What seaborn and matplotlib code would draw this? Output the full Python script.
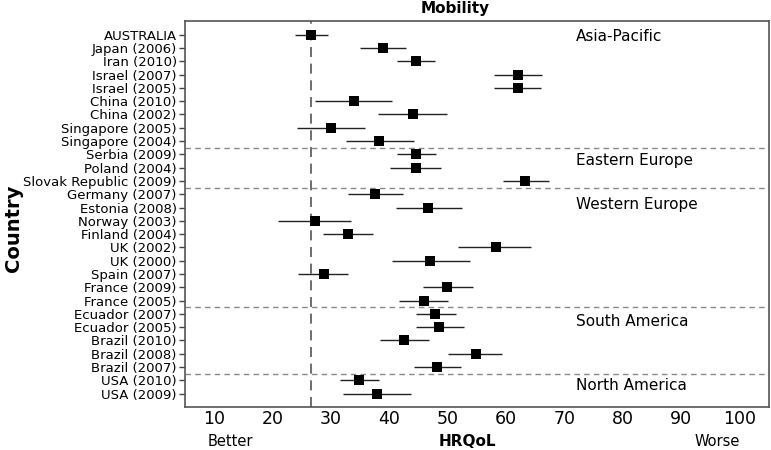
import matplotlib
matplotlib.use("Agg")
import matplotlib.pyplot as plt
import seaborn as sns
import pandas as pd
import numpy as np

countries = ["AUSTRALIA", "Japan (2006)", "Iran (2010)", "Israel (2007)", "Israel (2005)",
             "China (2010)", "China (2002)", "Singapore (2005)", "Singapore (2004)",
             "Serbia (2009)", "Poland (2004)", "Slovak Republic (2009)",
             "Germany (2007)", "Estonia (2008)", "Norway (2003)", "Finland (2004)",
             "UK (2002)", "UK (2000)", "Spain (2007)", "France (2009)", "France (2005)",
             "Ecuador (2007)", "Ecuador (2005)", "Brazil (2010)", "Brazil (2008)", "Brazil (2007)",
             "USA (2010)", "USA (2009)"]
mean = [26.5, 38.9, 44.5, 62.1, 62.1, 33.9, 44.0, 30.0, 38.3,
        44.6, 44.5, 63.3,
        37.6, 46.7, 27.3, 33.0, 58.2, 47.0, 28.8, 49.9, 45.9,
        47.9, 48.5, 42.6, 54.8, 48.2,
        34.8, 37.9]
lower = [23.8, 35.0, 41.3, 57.9, 57.9, 27.3, 38.0, 24.2, 32.5,
         41.3, 40.1, 59.5,
         32.9, 41.1, 21.0, 28.7, 51.8, 40.5, 24.4, 45.8, 41.7,
         44.5, 44.5, 38.4, 50.1, 44.2,
         31.5, 32.0]
upper = [29.5, 42.8, 47.8, 66.2, 66.0, 40.4, 49.8, 35.9, 44.2,
         48.0, 48.9, 67.3,
         42.4, 52.5, 33.4, 37.2, 64.3, 53.9, 33.0, 54.4, 50.1,
         51.4, 52.8, 46.8, 59.3, 52.3,
         38.3, 43.8]
regions = ["Asia-Pacific", "Eastern Europe", "Western Europe", "South America", "North America"]
region_sizes = [9, 3, 9, 5, 2]
xticks = [10, 20, 30, 40, 50, 60, 70, 80, 90, 100]
reference = 26.5

df = pd.DataFrame({"Country": countries, "HRQoL": mean, "lo": lower, "hi": upper})

sns.set_style("white")
plt.rcParams["font.family"] = ["DejaVu Sans"]
plt.rcParams["text.color"] = "black"

fig = plt.figure(figsize=(7.71, 4.5), dpi=100)
ax = fig.add_axes([0.240, 0.0956, 0.757, 0.857])

ypos = np.arange(len(countries))
ax.hlines(ypos, df["lo"], df["hi"], color="#222222", lw=1.0, zorder=2)
sns.scatterplot(data=df, x="HRQoL", y="Country", marker="s", s=60, color="black",
                edgecolor="black", linewidth=0, ax=ax, zorder=3)

ax.axvline(reference, color="#555555", lw=1.2, ls=(0, (6, 4)), zorder=1)

cum = np.cumsum(region_sizes)
for b in cum[:-1]:
    ax.axhline(b - 0.5, color="#888888", lw=1.0, ls=(0, (4, 3)), zorder=1)
label_rows = [0.15, 9.5, 12.75, 21.6, 26.4]
for name, r in zip(regions, label_rows):
    ax.text(72, r, name, fontsize=11, va="center", ha="left", color="black")

ax.set_xlim(5, 105)
ax.set_ylim(len(countries), -1.0)
ax.set_xticks(xticks)
ax.set_xticklabels([str(t) for t in xticks], fontsize=12.5, color="black")
ax.set_yticks(ypos)
ax.set_yticklabels(countries, fontsize=9.5, color="black")
ax.tick_params(axis="y", length=4, width=1, color="#444444", direction="out", left=True, pad=2)
ax.tick_params(axis="x", length=0, bottom=True, pad=2)
ax.set_xlabel("")
ax.set_ylabel("")
for sp in ax.spines.values():
    sp.set_color("#555555")
    sp.set_linewidth(1.2)

fig.text(14 / 771, 1 - 228 / 450, "Country", fontsize=14, fontweight="bold", rotation=90,
         ha="center", va="center", color="black")
fig.text(455 / 771, 1 - 9 / 450, "Mobility", fontsize=11, fontweight="bold", ha="center", va="center")
fig.text(230 / 771, 1 - 442 / 450, "Better", fontsize=10.5, ha="center", va="center")
fig.text(467 / 771, 1 - 442 / 450, "HRQoL", fontsize=11, fontweight="bold", ha="center", va="center")
fig.text(717 / 771, 1 - 442 / 450, "Worse", fontsize=10.5, ha="center", va="center")

fig.savefig("out.png", dpi=100)
